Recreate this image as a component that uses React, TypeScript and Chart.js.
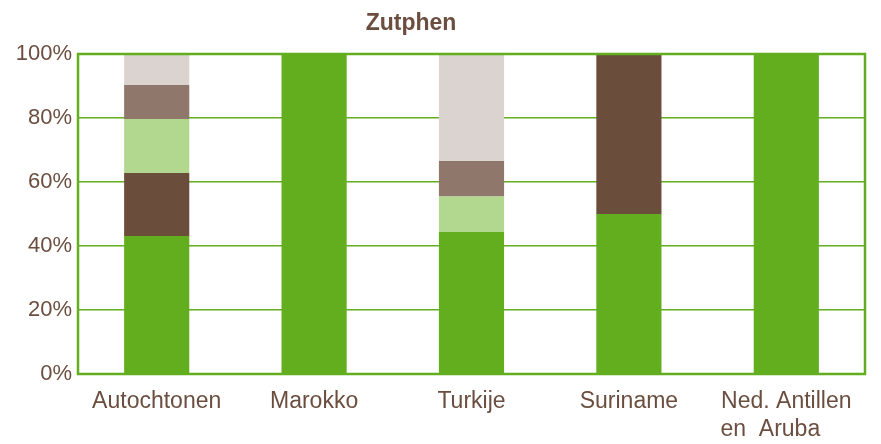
import React, { useEffect, useRef } from "react";
import { Chart, registerables } from "chart.js";

Chart.register(...registerables);

const categories: (string | string[])[] = [
  "Autochtonen",
  "Marokko",
  "Turkije",
  "Suriname",
  ["Ned. Antillen", "en  Aruba     "],
];
const seriesGreen = [43.1, 100, 44.4, 50, 100];
const seriesDarkBrown = [19.7, 0, 0, 50, 0];
const seriesLightGreen = [16.9, 0, 11.1, 0, 0];
const seriesMidBrown = [10.6, 0, 11.1, 0, 0];
const seriesLightGrey = [9.7, 0, 33.4, 0, 0];
const yTicks = [0, 20, 40, 60, 80, 100];
const titleText = "Zutphen";

const GREEN = "#62ae1f";
const TEXT = "#6b4e3f";
const FONT = "'Liberation Sans', Arial, sans-serif";

export default function App() {
  const ref = useRef<HTMLCanvasElement | null>(null);
  useEffect(() => {
    if (!ref.current) return;
    const titlePlugin = {
      id: "customTitle",
      afterDraw(chart: any) {
        const ctx = chart.ctx;
        ctx.save();
        ctx.font = `bold 23px ${FONT}`;
        ctx.fillStyle = TEXT;
        ctx.textAlign = "center";
        ctx.textBaseline = "middle";
        ctx.fillText(titleText, 411, 24);
        ctx.restore();
      },
    };
    const borderPlugin = {
      id: "plotBorder",
      afterDatasetsDraw(chart: any) {
        const { ctx, chartArea } = chart;
        ctx.save();
        ctx.strokeStyle = GREEN;
        ctx.lineWidth = 2.5;
        ctx.strokeRect(
          chartArea.left,
          chartArea.top,
          chartArea.right - chartArea.left,
          chartArea.bottom - chartArea.top
        );
        ctx.restore();
      },
    };
    const mk = (label: string, data: number[], color: string) => ({
      label,
      data,
      backgroundColor: color,
      borderWidth: 0,
      categoryPercentage: 1,
      barPercentage: 0.414,
    });
    const chart = new Chart(ref.current, {
      type: "bar",
      data: {
        labels: categories as any,
        datasets: [
          mk("1", seriesGreen, GREEN),
          mk("2", seriesDarkBrown, "#6b4d3c"),
          mk("3", seriesLightGreen, "#b2d88f"),
          mk("4", seriesMidBrown, "#8f776b"),
          mk("5", seriesLightGrey, "#dbd3d0"),
        ],
      },
      options: {
        animation: false,
        responsive: false,
        layout: { padding: { top: 54, right: 16, left: 0, bottom: 0 } },
        plugins: {
          legend: { display: false },
          title: { display: false },
          tooltip: { enabled: false },
        },
        scales: {
          x: {
            stacked: true,
            grid: { display: false, drawTicks: false },
            border: { display: false },
            ticks: {
              color: TEXT,
              font: { family: FONT, size: 23, lineHeight: 1.22 },
              padding: 14,
              maxRotation: 0,
              autoSkip: false,
            },
            afterFit: (s: any) => {
              s.height = 70;
            },
          },
          y: {
            stacked: true,
            min: 0,
            max: 100,
            afterBuildTicks: (s: any) => {
              s.ticks = yTicks.map((v) => ({ value: v }));
            },
            grid: { color: GREEN, lineWidth: 1.5, drawTicks: false },
            border: { display: false },
            ticks: {
              color: TEXT,
              font: { family: FONT, size: 22 },
              padding: 6,
              callback: (v: any) => `${v}%`,
            },
            afterFit: (s: any) => {
              s.width = 78;
            },
          },
        },
      },
      plugins: [borderPlugin, titlePlugin],
    });
    return () => chart.destroy();
  }, []);
  return (
    <div style={{ position: "absolute", left: 0, top: 0, width: 881, height: 444, background: "#fff" }}>
      <canvas ref={ref} width={881} height={444} style={{ display: "block" }} />
    </div>
  );
}
